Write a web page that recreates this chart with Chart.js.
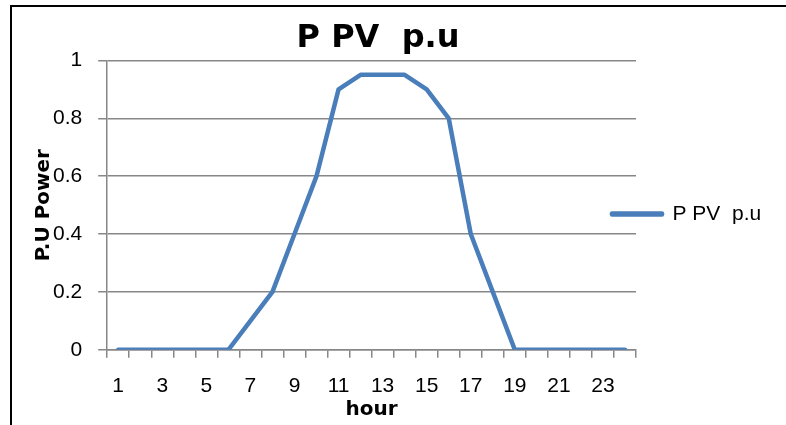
<!DOCTYPE html>
<html lang="en">
	<head>
		<meta charset="utf-8">
		<title>P PV p.u</title>
		<script src="https://cdn.jsdelivr.net/npm/chart.js@4.4.0/dist/chart.umd.min.js"></script>
		<style>
			html, body { margin: 0; padding: 0; background: #fff; overflow: hidden; }
			.frame { position: absolute; left: 10px; top: 5px; width: 800px; height: 440px; border-top: 2px solid #000; border-left: 2px solid #000; }
			.wrap { position: absolute; left: 0; top: 0; width: 786px; height: 425px; }
		</style>
	</head>
	<body>
		<div class="frame"></div>
		<div class="wrap"><canvas id="pv"></canvas></div>
		<script>
			const hours = ["1","2","3","4","5","6","7","8","9","10","11","12","13","14","15","16","17","18","19","20","21","22","23","24"]
			const pvPower = [0, 0, 0, 0, 0, 0, 0.1, 0.2, 0.4, 0.6, 0.9, 0.95, 0.95, 0.95, 0.9, 0.8, 0.4, 0.2, 0, 0, 0, 0, 0, 0]
			const yTicks = [0, 0.2, 0.4, 0.6, 0.8, 1]

			const blue = "#4a7ebb"
			const grey = "#878787"

			Chart.defaults.font.family = "'Liberation Sans', Arial, sans-serif"
			Chart.defaults.color = "#000"

			// legend sits partly over the plot in the original, so move it a bit
			const moveLegend = {
				id: "moveLegend",
				afterLayout(chart) {
					const lg = chart.legend
					lg.left -= 34
					lg.right = chart.width
					lg.width = lg.right - lg.left
					lg.top += 9
					lg.bottom += 9
				}
			}

			new Chart(document.getElementById("pv"), {
				type: "line",
				data: {
					labels: hours,
					datasets: [{
						label: "P PV  p.u",
						data: pvPower,
						borderColor: blue,
						backgroundColor: blue,
						borderWidth: 4.5,
						borderCapStyle: "round",
						borderJoinStyle: "round",
						pointRadius: 0,
						tension: 0
					}]
				},
				options: {
					responsive: true,
					maintainAspectRatio: false,
					animation: false,
					layout: { padding: { left: 0, right: 30, top: 0, bottom: 0 } },
					plugins: {
						title: {
							display: true,
							text: "P PV  p.u",
							font: { family: "'DejaVu Sans'", size: 32, weight: "bold" },
							padding: { top: 19, bottom: 3 }
						},
						legend: {
							position: "right",
							fullSize: false,
							maxWidth: 120,
							labels: {
								boxWidth: 50,
								boxHeight: 1,
								padding: 10,
								font: { size: 21 }
							}
						},
						tooltip: { enabled: false }
					},
					scales: {
						x: {
							offset: true,
							grid: { offset: true, drawOnChartArea: false, drawTicks: true, tickLength: 8, color: grey, lineWidth: 1.5 },
							border: { color: grey, width: 1.5 },
							ticks: {
								autoSkip: false,
								maxRotation: 0,
								padding: 16,
								font: { size: 21 },
								callback: (v, i) => i % 2 === 0 ? hours[i] : ""
							},
							title: {
								display: true,
								text: "hour",
								font: { family: "'DejaVu Sans'", size: 20, weight: "bold" },
								padding: { top: -17, bottom: 3 }
							}
						},
						y: {
							min: 0,
							max: 1,
							afterBuildTicks: axis => { axis.ticks = yTicks.map(v => ({ value: v })) },
							grid: { color: grey, lineWidth: 1.5, drawTicks: true, tickLength: 9 },
							border: { color: grey, width: 1.5 },
							ticks: {
								padding: 16,
								font: { size: 21 },
								callback: v => String(Math.round(v * 10) / 10)
							},
							title: {
								display: true,
								text: "P.U Power",
								font: { family: "'DejaVu Sans'", size: 20, weight: "bold" },
								padding: { top: 32, bottom: -19 }
							}
						}
					}
				},
				plugins: [moveLegend]
			})
		</script>
	</body>
</html>
